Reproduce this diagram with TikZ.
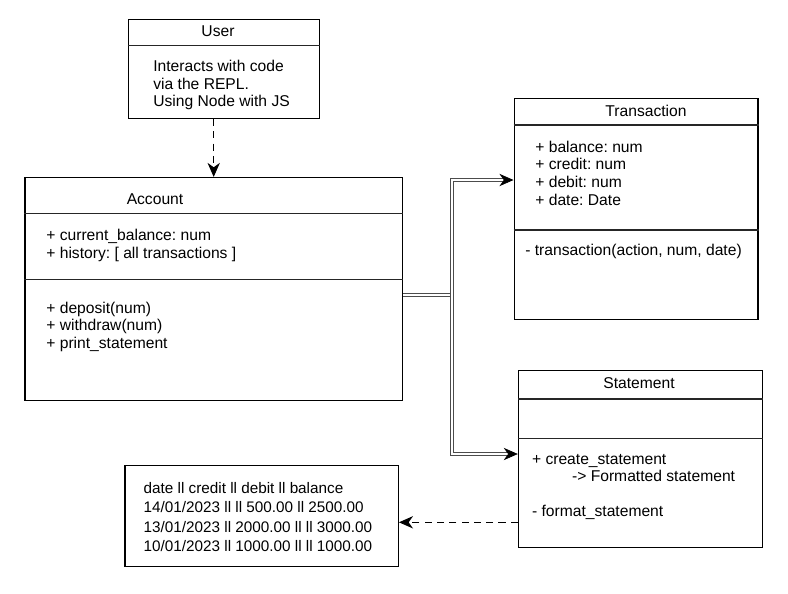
\documentclass[tikz,border=0pt]{standalone}
\usepackage{fontspec}
\setmainfont{Liberation Sans}
\frenchspacing
\usetikzlibrary{arrows.meta}
\tikzset{
  classbox/.style = {rectangle, draw=black, line width=0.6pt, inner sep=0pt},% boite de classe
  classname/.style = {anchor=base, inner sep=0pt,
    font=\fontsize{8.9}{10}\selectfont},% nom de la classe
  members/.style = {anchor=base west, align=left, inner sep=0pt,
    font=\fontsize{8.9}{10}\selectfont},% attributs et methodes (base = derniere ligne)
  divider/.style = {draw=black!85, line width=0.6pt},% separation
  headed/.style = {-{Stealth[length=8pt,width=7pt,inset=2.5pt,black]}},% pointe pleine
  link/.style = {headed, draw=black!70, line width=0.4pt, double=white,
    double distance=1.2pt},% trait double
  uses/.style = {headed, dash pattern=on 4pt off 3pt, line width=0.6pt}% trait pointille
}

\begin{document}
\begin{tikzpicture}[x=0.02cm,y=-0.02cm]
  \useasboundingbox (0,0) rectangle (788,593);
  % boites
  \node [classbox, minimum width=3.82cm, minimum height=1.97cm] (user) at (223.8,69.2) {};
  \node [classbox, minimum width=7.55cm, minimum height=4.47cm] (account) at (213.7,289.2) {};
  \node [classbox, minimum width=4.88cm, minimum height=4.42cm] (transaction) at (636,208.8) {};
  \node [classbox, minimum width=4.88cm, minimum height=3.53cm] (statement) at (640.3,459) {};
  \node [classbox, minimum width=5.47cm, minimum height=2.03cm] (output) at (261.7,515.8) {};
  % separations
  \draw [divider] (user.west |- 0,45.7) -- (user.east |- 0,45.7);
  \draw [divider] (account.west |- 0,213.3) -- (account.east |- 0,213.3);
  \draw [divider] (account.west |- 0,279.3) -- (account.east |- 0,279.3);
  \draw [divider] (transaction.west |- 0,125) -- (transaction.east |- 0,125);
  \draw [divider] (transaction.west |- 0,230) -- (transaction.east |- 0,230);
  \draw [divider] (statement.west |- 0,399) -- (statement.east |- 0,399);
  \draw [divider] (statement.west |- 0,438.3) -- (statement.east |- 0,438.3);
  % textes
  \node [classname] (user-name) at (218,36) {User};
  \node [members] (user-note) at (153,106.7) {Interacts with code\\via the REPL.\\Using Node with JS};
  \node [classname] (account-name) at (155,204) {Account};
  \node [members] (account-attr) at (46,258) {+ current\_balance: num\\+ history: [ all transactions ]};
  \node [members] (account-meth) at (46,348.2) {+ deposit(num)\\+ withdraw(num)\\+ print\_statement};
  \node [classname] (transaction-name) at (646,116.7) {Transaction};
  \node [members] (transaction-attr) at (535,205) {+ balance: num\\+ credit: num\\+ debit: num\\+ date: Date};
  \node [members] (transaction-meth) at (525,255.7) {- transaction(action, num, date)};
  \node [classname] (statement-name) at (639,388.3) {Statement};
  \node [members] (statement-meth) at (531.7,516.7) {+ create\_statement\\\hspace{22.8pt}-> Formatted statement\\[10pt]- format\_statement};
  \node [members, font=\fontsize{8.7}{11.1}\selectfont] (output-text) at (143.3,551.7)
    {date ll credit ll debit ll balance\\14/01/2023 ll ll 500.00 ll 2500.00\\13/01/2023 ll 2000.00 ll ll 3000.00\\10/01/2023 ll 1000.00 ll ll 1000.00};
  % liens
  \coordinate (fork) at (452,295);
  \draw [uses] (user.south -| account.north) -- (account.north);
  \draw [link,-] (account.east |- fork) -- (fork);
  \draw [link] (fork) |- (transaction.west |- 0,180);
  \draw [link] (fork) |- (statement.west |- 0,454);
  \draw [uses] (statement.west |- 0,522.3) -- (output.east |- 0,522.3);
\end{tikzpicture}
\end{document}
